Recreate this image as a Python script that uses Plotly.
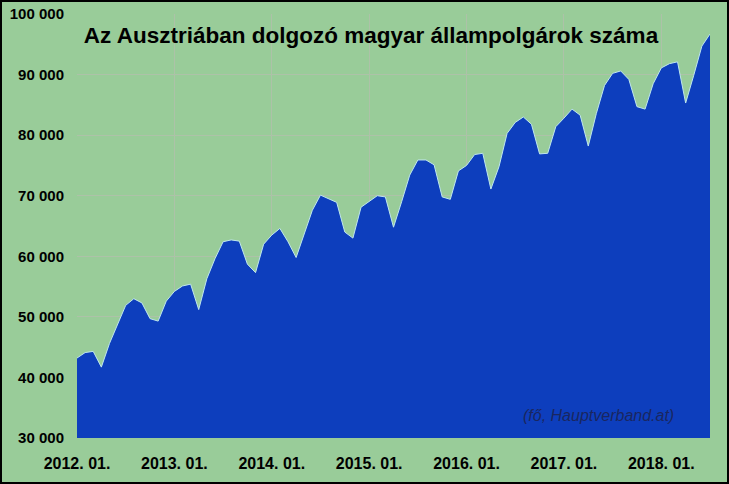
import plotly.graph_objects as go

years = [2012, 2013, 2014, 2015, 2016, 2017, 2018]
values_2012 = [43200, 44100, 44300, 41700, 45600, 48900, 51900, 53000, 52300, 49700, 49300, 52600]
values_2013 = [54200, 55100, 55400, 51200, 56300, 59600, 62400, 62700, 62500, 58700, 57300, 62000]
values_2014 = [63500, 64600, 62400, 59800, 63800, 67600, 70100, 69500, 68900, 64000, 63000, 68100]
values_2015 = [69000, 70000, 69800, 64800, 69000, 73400, 75900, 75900, 75100, 69800, 69400, 74100]
values_2016 = [75000, 76800, 77000, 71100, 74800, 80300, 82100, 83000, 81800, 76900, 77000, 81400]
values_2017 = [82800, 84300, 83300, 78200, 83600, 88200, 90200, 90600, 89200, 84700, 84300, 88500]
values_2018 = [91100, 91800, 92100, 85300, 89900, 94700, 96700]

yearly = [values_2012, values_2013, values_2014, values_2015, values_2016, values_2017, values_2018]
months = []
values = []
for y, vals in zip(years, yearly):
    for i, v in enumerate(vals):
        months.append(f"{y}. {i + 1:02d}.")
        values.append(v)

tick_labels = [f"{y}. 01." for y in years]

title_text = "Az Ausztriában dolgozó magyar állampolgárok száma"
source_text = "(fő, Hauptverband.at)"

W, H = 729, 484
ML, MR, MT, MB = 77, 19, 14, 46
PW, PH = W - ML - MR, H - MT - MB

GREEN = "#99CC99"
BLUE = "#0D3EBD"
GRID = "#ADC2A8"
FONT = "Liberation Sans, Arial, sans-serif"

fig = go.Figure()
fig.add_trace(go.Scatter(
    x=months, y=values, mode="lines", fill="tozeroy",
    fillcolor=BLUE, line=dict(color="#BFE6EE", width=1),
    hoverinfo="x+y", showlegend=False,
))

fig.update_layout(
    width=W, height=H,
    margin=dict(l=ML, r=MR, t=MT, b=MB, autoexpand=False),
    paper_bgcolor=GREEN, plot_bgcolor=GREEN,
    separators=". ",
    font=dict(family=FONT, color="#000000"),
    title=dict(text=f"<b>{title_text}</b>", x=371 / W, xanchor="center",
               y=1 - 35 / H, yanchor="middle",
               font=dict(family=FONT, size=22.5, color="#000000")),
    xaxis=dict(type="category", range=[0, len(months) - 1], automargin=False,
               tickmode="array", tickvals=tick_labels, ticktext=[f"<b>{t}</b>" for t in tick_labels],
               showgrid=True, gridcolor=GRID, gridwidth=1,
               ticks="", ticklabelstandoff=14,
               tickfont=dict(family=FONT, size=16, color="#000000"),
               showline=False, zeroline=False),
    yaxis=dict(range=[30000, 100000], dtick=10000, tickformat=",d", automargin=False,
               showgrid=True, gridcolor=GRID, gridwidth=1,
               ticks="", ticklabelstandoff=12,
               tickfont=dict(family=FONT, size=15, color="#000000"),
               showline=False, zeroline=False),
    annotations=[dict(text=f"<i>{source_text}</i>", xref="paper", yref="paper",
                      x=(598 - ML) / PW, y=(438 - 415.5) / PH,
                      xanchor="center", yanchor="middle", showarrow=False,
                      font=dict(family=FONT, size=16, color="#1A2660"))],
    shapes=[dict(type="rect", xref="paper", yref="paper",
                 x0=(-ML + 1) / PW, x1=1 + (MR - 1) / PW,
                 y0=(-MB + 1) / PH, y1=1 + (MT - 1) / PH,
                 line=dict(color="#000000", width=2), layer="above")],
)

fig.update_xaxes(tickfont_weight="bold")
fig.update_yaxes(tickfont_weight="bold")

fig.write_html("out.html",
               config={"displayModeBar": False},
               post_script="document.body.style.margin='0';document.body.style.overflow='hidden';")
